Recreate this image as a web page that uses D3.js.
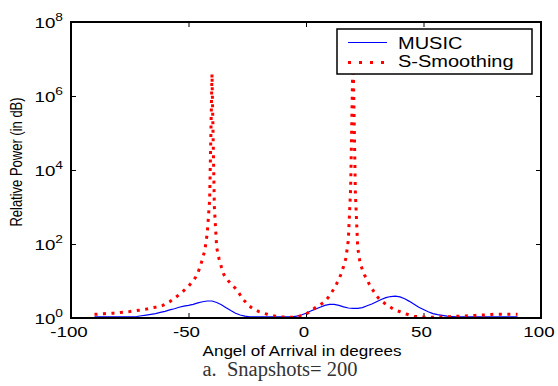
<!DOCTYPE html>
<html>
<head>
<meta charset="utf-8">
<script src="https://cdn.jsdelivr.net/npm/d3@7"></script>
<style>
  body { margin: 0; background: #fff; }
  text { font-family: "Liberation Sans", Arial, sans-serif; fill: #000; }
</style>
</head>
<body>
<svg id="chart" width="558" height="386"></svg>
<script>
// axis ticks
const angleTicks = [-100, -50, 0, 50, 100];
const powerTicks = [1e0, 1e2, 1e4, 1e6, 1e8];
const powerExponents = ['0', '2', '4', '6', '8'];

// MUSIC spectrum, every 2 degrees from -90 to 90 (dB)
const musicAngles = d3.range(-90, 91, 2);
const musicDb = [
  0.3, 0.3, 0.3, 0.3, 0.3, 0.3, 0.3, 0.3, 0.3,
  0.4, 0.6, 0.8, 1.0, 1.2, 1.5, 1.8, 2.2, 2.5, 2.9, 3.2, 3.4, 3.7, 4.1, 4.4, 4.6, 4.6, 4.2, 3.6, 2.8, 2.0, 1.3, 0.8, 0.5, 0.3,
  0.3, 0.3, 0.3, 0.3, 0.3, 0.3, 0.3, 0.3, 0.3,
  0.5, 0.8, 1.3, 1.9, 2.4, 2.9, 3.4, 3.7, 3.7, 3.4, 3.0, 2.7, 2.6, 2.6, 2.8, 3.3, 3.8, 4.4, 5.0, 5.5, 5.8, 5.9, 5.7, 5.2, 4.5, 3.7, 2.9, 2.3, 1.7, 1.2, 0.9, 0.7, 0.5, 0.4,
  0.3, 0.3, 0.3, 0.3, 0.3, 0.3, 0.3, 0.3, 0.3, 0.3, 0.3, 0.3, 0.3, 0.3
];

// spatial smoothing spectrum, every degree from -90 to 90 (dB)
const smoothAngles = d3.range(-90, 91, 1);
const smoothDb = [
  1.0, 1.0, 1.1, 1.1, 1.15, 1.2, 1.2, 1.25, 1.3, 1.35,
  1.4, 1.5, 1.55, 1.6, 1.7, 1.75, 1.85, 1.9, 2.0, 2.1,
  2.2, 2.3, 2.4, 2.55, 2.7, 2.8, 2.9, 3.0, 3.2, 3.4,
  3.7, 4.0, 4.4, 4.9, 5.3, 5.8, 6.3, 6.8, 7.4, 8.0,
  8.6, 9.3, 10.0, 11.0, 12.2, 14.0, 16.0, 18.5, 23, 32,
  66, 30, 19, 16, 13.8, 11.8, 10.8, 10.0, 9.3, 8.7,
  8.0, 7.2, 6.2, 5.2, 4.5, 3.8, 3.2, 2.7, 2.3, 2.0,
  1.7, 1.5, 1.3, 1.1, 0.9, 0.75, 0.6, 0.5, 0.4, 0.35,
  0.3, 0.28, 0.25, 0.22, 0.2, 0.25, 0.3, 0.4, 0.6, 0.8,
  1.0, 1.5, 2.0, 2.4, 2.8, 3.2, 3.6, 4.0, 4.5, 5.2,
  6.0, 7.0, 8.0, 9.2, 10.5, 12, 14, 16.2, 21, 35,
  72, 34, 19, 15, 13, 11.5, 10.5, 9.0, 8.0, 7.0,
  6.0, 5.3, 4.7, 4.2, 3.7, 3.3, 2.9, 2.5, 2.2, 1.9,
  1.7, 1.45, 1.2, 1.0, 0.8, 0.65, 0.5, 0.4, 0.3, 0.28,
  0.25, 0.22, 0.2, 0.2, 0.2, 0.22, 0.25, 0.28, 0.3, 0.32,
  0.35, 0.37, 0.4, 0.42, 0.45, 0.47, 0.5, 0.52, 0.55, 0.58,
  0.6, 0.65, 0.7, 0.72, 0.75, 0.78, 0.8, 0.85, 0.9, 0.95,
  1, 1, 1, 1, 1, 1, 1, 1, 1, 1, 1
];

const seriesNames = ['MUSIC', 'S-Smoothing'];

const plotLeft = 71;
const plotRight = 541;
const plotTop = 22;
const plotBottom = 318;
// the original picture is stretched sideways, so text is too
const stretch = 1.25;

const svg = d3.select('#chart');

const x = d3.scaleLinear().domain([-100, 100]).range([plotLeft, plotRight]);
const y = d3.scaleLog().domain([1, 1e8]).range([plotBottom, plotTop]);

const toPower = db => Math.pow(10, db / 10);
const musicData = musicAngles.map((a, i) => [a, toPower(musicDb[i])]);
const smoothData = smoothAngles.map((a, i) => [a, toPower(smoothDb[i])]);

svg.append('defs')
  .append('clipPath')
  .attr('id', 'plot-clip')
  .append('rect')
  .attr('x', plotLeft)
  .attr('y', plotTop)
  .attr('width', plotRight - plotLeft)
  .attr('height', plotBottom - plotTop);

// inward ticks on all four sides
function addTicks(axis, transform) {
  const g = svg.append('g').attr('transform', transform).call(axis);
  g.select('.domain').remove();
  g.selectAll('.tick line').attr('stroke', '#000').attr('stroke-width', 1);
  g.selectAll('.tick text').remove();
}
addTicks(d3.axisBottom(x).tickValues(angleTicks).tickSize(-5), `translate(0,${plotBottom})`);
addTicks(d3.axisTop(x).tickValues(angleTicks).tickSize(-5), `translate(0,${plotTop})`);
addTicks(d3.axisLeft(y).tickValues(powerTicks).tickSize(-5), `translate(${plotLeft},0)`);
addTicks(d3.axisRight(y).tickValues(powerTicks).tickSize(-5), `translate(${plotRight},0)`);

// curves
const line = d3.line().x(d => x(d[0])).y(d => y(d[1]));
const gLines = svg.append('g').attr('clip-path', 'url(#plot-clip)');

gLines.append('path')
  .datum(musicData)
  .attr('fill', 'none')
  .attr('stroke', '#0000ff')
  .attr('stroke-width', 1.2)
  .attr('d', line);

gLines.append('path')
  .datum(smoothData)
  .attr('fill', 'none')
  .attr('stroke', '#ff0000')
  .attr('stroke-width', 3)
  .attr('stroke-dasharray', '3,5.5')
  .attr('d', line);

// frame
svg.append('rect')
  .attr('x', plotLeft)
  .attr('y', plotTop)
  .attr('width', plotRight - plotLeft)
  .attr('height', plotBottom - plotTop)
  .attr('fill', 'none')
  .attr('stroke', '#000')
  .attr('stroke-width', 2);

// x tick labels
svg.selectAll('none')
  .data(angleTicks)
  .enter()
  .append('text')
  .attr('font-size', '15px')
  .attr('text-anchor', 'middle')
  .attr('transform', d => `translate(${x(d) - 2},337) scale(${stretch},1)`)
  .text(d => d);

// y tick labels, 10 with a raised exponent
const yLabels = svg.selectAll('none')
  .data(powerTicks)
  .enter()
  .append('text')
  .attr('font-size', '15px')
  .attr('text-anchor', 'end')
  .attr('transform', d => `translate(63,${y(d) + 6}) scale(${stretch},1)`);
yLabels.append('tspan').text('10');
yLabels.append('tspan')
  .attr('font-size', '11px')
  .attr('dy', -7)
  .text((d, i) => powerExponents[i]);

// axis titles
svg.append('text')
  .attr('font-size', '15.5px')
  .attr('text-anchor', 'middle')
  .attr('transform', 'translate(302,355.5) scale(1.1,1)')
  .text('Angel of Arrival in degrees');

svg.append('text')
  .attr('font-size', '13px')
  .attr('text-anchor', 'middle')
  .attr('transform', 'translate(22,162) rotate(-90) scale(1,1.2)')
  .text('Relative Power (in dB)');

// caption
svg.append('text')
  .attr('font-size', '20.5px')
  .attr('text-anchor', 'middle')
  .attr('x', 280)
  .attr('y', 376)
  .style('font-family', '"Liberation Serif", "Times New Roman", serif')
  .style('fill', '#333')
  .text('a.\u00a0 Snapshots= 200');

// legend
const gLegend = svg.append('g').attr('transform', 'translate(337,29)');
gLegend.append('rect')
  .attr('width', 195)
  .attr('height', 45)
  .attr('fill', '#fff')
  .attr('stroke', '#000')
  .attr('stroke-width', 1.5);

const legendStyles = [
  { stroke: '#0000ff', width: 1.2, dash: null },
  { stroke: '#ff0000', width: 3, dash: '3,8' }
];
gLegend.selectAll('none')
  .data(seriesNames)
  .enter()
  .append('line')
  .attr('x1', 11)
  .attr('x2', 50)
  .attr('y1', (d, i) => 13.5 + i * 20)
  .attr('y2', (d, i) => 13.5 + i * 20)
  .attr('stroke', (d, i) => legendStyles[i].stroke)
  .attr('stroke-width', (d, i) => legendStyles[i].width)
  .attr('stroke-dasharray', (d, i) => legendStyles[i].dash);

gLegend.selectAll('none')
  .data(seriesNames)
  .enter()
  .append('text')
  .attr('font-size', '16px')
  .attr('transform', (d, i) => `translate(61,${19.5 + i * 18.5}) scale(${stretch},1)`)
  .text(d => d);
</script>
</body>
</html>
